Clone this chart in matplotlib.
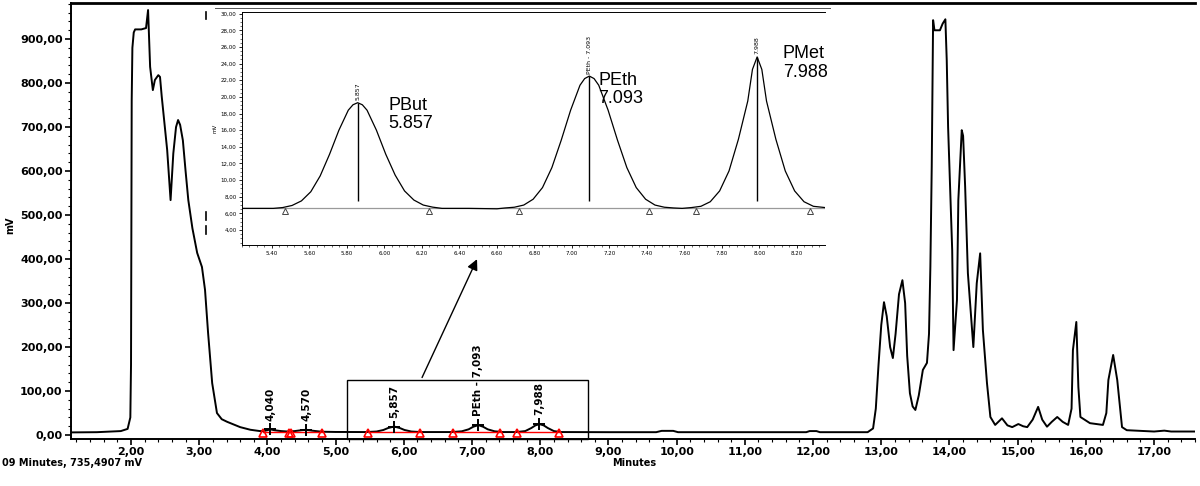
import matplotlib.pyplot as plt
from matplotlib.lines import Line2D
from matplotlib.patches import Rectangle
from matplotlib.ticker import MultipleLocator

plt.rcParams['font.family'] = ['DejaVu Sans']

# --- main chromatogram (min, mV) ---------------------------------------------
t_main = [1.12, 1.50, 1.70, 1.85, 1.95, 1.99, 2.00, 2.005, 2.01, 2.02, 2.04,
          2.06, 2.15, 2.22, 2.235, 2.25, 2.265, 2.28, 2.32, 2.35, 2.40, 2.425,
          2.45, 2.47, 2.53, 2.58, 2.62, 2.66, 2.69, 2.72, 2.76, 2.80, 2.84,
          2.90, 2.97, 3.04, 3.085, 3.13, 3.19, 3.26, 3.33, 3.41, 3.60, 3.75,
          3.89, 3.95, 4.00, 4.04, 4.10, 4.20, 4.30, 4.40, 4.50, 4.57, 4.65,
          4.80, 5.00, 5.45, 5.60, 5.70, 5.77, 5.857, 5.94, 6.01, 6.11, 6.25,
          6.70, 6.85, 6.95, 7.02, 7.093, 7.16, 7.23, 7.33, 7.45, 7.65, 7.78,
          7.87, 7.93, 7.988, 8.05, 8.11, 8.20, 8.30, 9.00, 9.70, 9.78, 9.95,
          10.02, 11.90, 11.95, 12.05, 12.10, 12.80, 12.88, 12.92, 12.96, 13.00,
          13.04, 13.08, 13.13, 13.17, 13.21, 13.26, 13.31, 13.35, 13.38, 13.42,
          13.46, 13.50, 13.55, 13.61, 13.67, 13.70, 13.72, 13.74, 13.76, 13.78,
          13.86, 13.90, 13.94, 13.96, 13.98, 14.01, 14.04, 14.06, 14.11, 14.13,
          14.18, 14.20, 14.23, 14.27, 14.35, 14.40, 14.45, 14.49, 14.55, 14.60,
          14.67, 14.77, 14.85, 14.92, 15.01, 15.08, 15.14, 15.22, 15.30, 15.36,
          15.43, 15.50, 15.58, 15.66, 15.74, 15.79, 15.81, 15.86, 15.89, 15.92,
          16.06, 16.25, 16.30, 16.33, 16.40, 16.46, 16.53, 16.60, 17.00, 17.15,
          17.25, 17.60]
mv_main = [6, 6.5, 8, 9, 14, 40, 160, 460, 760, 880, 915,
           922, 922, 925, 945, 966, 900, 837, 784, 807, 818, 814,
           770, 739, 648, 534, 640, 700, 716, 705, 670, 600, 534,
           470, 414, 382, 330, 232, 118, 50, 36, 30, 18, 12,
           9, 9, 11, 13, 11, 9, 8, 9, 11, 12, 10,
           7.5, 7, 6.8, 8, 11.5, 16, 19.3, 16, 11.5, 8, 6.8,
           6.8, 8.5, 13, 19, 22.5, 19, 13, 8.5, 6.8, 6.8, 9,
           16, 22, 24.8, 22, 16, 9, 6.8, 6.5, 6.5, 9.5, 9.5,
           6.5, 6.5, 9, 9, 6.5, 6.5, 15, 60, 160, 250,
           302, 270, 200, 175, 230, 320, 352, 300, 180, 95,
           65, 57, 90, 148, 164, 230, 382, 610, 943, 920,
           920, 935, 945, 852, 700, 557, 420, 193, 307, 534,
           693, 680, 564, 368, 200, 345, 413, 239, 118, 41,
           23, 38, 22, 18, 25, 20, 18, 35, 64, 35,
           19, 30, 41, 30, 23, 60, 193, 257, 109, 41,
           27, 23, 50, 125, 182, 125, 18, 11, 8, 10,
           8, 8]

y_ticks = [0, 100, 200, 300, 400, 500, 600, 700, 800, 900]
y_labels = ['0,00', '100,00', '200,00', '300,00', '400,00', '500,00',
            '600,00', '700,00', '800,00', '900,00']
x_ticks = [2, 3, 4, 5, 6, 7, 8, 9, 10, 11, 12, 13, 14, 15, 16, 17]
x_labels = ['2,00', '3,00', '4,00', '5,00', '6,00', '7,00', '8,00', '9,00',
            '10,00', '11,00', '12,00', '13,00', '14,00', '15,00', '16,00',
            '17,00']

# labelled small peaks on the main trace
peak_t = [4.040, 4.570, 5.857, 7.093, 7.988]
peak_mv = [13, 12, 19.3, 22.5, 24.8]
peak_txt = ['4,040', '4,570', '5,857', 'PEth - 7,093', '7,988']
# integration start / end of each peak
integ_start = [3.93, 4.34, 5.47, 6.72, 7.66]
integ_end = [4.31, 4.80, 6.24, 7.41, 8.27]

# --- zoomed inset (min, mV) --------------------------------------------------
t_in = [5.24, 5.30, 5.407, 5.457, 5.507, 5.557, 5.607, 5.657, 5.707, 5.757,
        5.807, 5.832, 5.857, 5.882, 5.907, 5.957, 6.007, 6.057, 6.107, 6.157,
        6.207, 6.257, 6.307, 6.45, 6.60, 6.643, 6.693, 6.743, 6.793, 6.843,
        6.893, 6.943, 6.993, 7.043, 7.068, 7.093, 7.118, 7.143, 7.193, 7.243,
        7.293, 7.343, 7.393, 7.443, 7.493, 7.543, 7.588, 7.638, 7.688, 7.738,
        7.788, 7.838, 7.888, 7.938, 7.963, 7.988, 8.013, 8.038, 8.088, 8.138,
        8.188, 8.238, 8.288, 8.35]
mv_in = [6.6, 6.6, 6.6, 6.7, 6.95, 7.5, 8.6, 10.5, 13.1, 16.0,
         18.4, 19.05, 19.3, 19.05, 18.4, 16.0, 13.1, 10.6, 8.7, 7.6,
         7.0, 6.75, 6.6, 6.6, 6.55, 6.65, 6.74, 7.0, 7.7, 9.1,
         11.5, 14.8, 18.4, 21.4, 22.2, 22.5, 22.2, 21.4, 18.4, 14.8,
         11.5, 9.1, 7.7, 7.0, 6.74, 6.65, 6.6, 6.7, 6.85, 7.4,
         8.7, 11.1, 14.9, 19.5, 23.3, 24.8, 23.3, 19.5, 14.9, 11.1,
         8.7, 7.4, 6.85, 6.7]
in_peak_t = [5.857, 7.093, 7.988]
in_peak_mv = [19.3, 22.5, 24.8]
in_peak_tag = ['5.857', 'PEth - 7.093', '7.988']
in_names = ['PBut\n5.857', 'PEth\n7.093', 'PMet\n7.988']
in_bounds = [5.47, 6.24, 6.72, 7.41, 7.66, 8.27]
in_y_ticks = [4, 6, 8, 10, 12, 14, 16, 18, 20, 22, 24, 26, 28, 30]
in_y_labels = ['4,00', '6,00', '8,00', '10,00', '12,00', '14,00', '16,00',
               '18,00', '20,00', '22,00', '24,00', '26,00', '28,00', '30,00']
in_x_ticks = [5.4, 5.6, 5.8, 6.0, 6.2, 6.4, 6.6, 6.8, 7.0, 7.2, 7.4, 7.6,
              7.8, 8.0, 8.2]
in_x_labels = ['5.40', '5.60', '5.80', '6.00', '6.20', '6.40', '6.60', '6.80',
               '7.00', '7.20', '7.40', '7.60', '7.80', '8.00', '8.20']

W, H = 1200, 486
fig = plt.figure(figsize=(W / 100, H / 100), dpi=100)
fig.patch.set_facecolor('white')


def fx(px):
    return px / W


def fy(py):
    return 1 - py / H


# --- main axes ---------------------------------------------------------------
ax = fig.add_axes([fx(71), fy(439), fx(1195) - fx(71), fy(3) - fy(439)])
ax.plot(t_main, mv_main, color='black', lw=1.4, solid_joinstyle='round')
ax.set_xlim(1.12, 17.60)
ax.set_ylim(-9, 982)

ax.set_yticks(y_ticks)
ax.set_yticklabels(y_labels, fontsize=8, fontweight='bold')
ax.set_xticks(x_ticks)
ax.set_xticklabels(x_labels, fontsize=8, fontweight='bold')
ax.xaxis.set_minor_locator(MultipleLocator(0.2))
ax.yaxis.set_minor_locator(MultipleLocator(20))
ax.tick_params(which='major', direction='out', length=4, width=1.2, pad=2)
ax.tick_params(which='minor', direction='out', length=2, width=0.8)
ax.spines['right'].set_visible(False)
ax.spines['top'].set_linewidth(2)
ax.spines['left'].set_linewidth(1.4)
ax.spines['bottom'].set_linewidth(1.4)

# integration marks of the small peaks
for s, e in zip(integ_start, integ_end):
    ax.plot([s, e], [6.5, 6.5], color='red', lw=1)
    ax.plot([s, e], [5, 5], ls='none', marker='^', ms=6, mfc='none',
            mec='red', mew=1.2)
for t, v, txt in zip(peak_t, peak_mv, peak_txt):
    ax.plot(t, v, marker='+', color='black', ms=8, mew=1.4)
    ax.text(t, v + 20, txt, rotation=90, ha='center', va='bottom',
            fontsize=7.5, fontweight='bold')

# box around the zoomed region
ax.add_patch(Rectangle((5.17, -9), 8.70 - 5.17, 125 + 9, fill=False,
                       edgecolor='black', lw=1, clip_on=False, zorder=3))

fig.text(fx(10), fy(225), 'mV', rotation=90, ha='center', va='center',
         fontsize=7, fontweight='bold')
fig.text(fx(634), fy(463), 'Minutes', ha='center', va='center',
         fontsize=7, fontweight='bold')
fig.text(fx(2), fy(463), '09 Minutes, 735,4907 mV', ha='left', va='center',
         fontsize=7, fontweight='bold')

# --- inset -------------------------------------------------------------------
axin = fig.add_axes([fx(242), fy(245), fx(825) - fx(242), fy(12) - fy(245)])
axin.axhline(6.6, color='#9a9a9a', lw=0.9)
axin.plot(t_in, mv_in, color='black', lw=0.9)
axin.plot(in_bounds, [6.25] * len(in_bounds), ls='none', marker='^', ms=4,
          mfc='none', mec='#444444', mew=0.7)
for t, v, tag in zip(in_peak_t, in_peak_mv, in_peak_tag):
    axin.vlines(t, 7.5, v, color='black', lw=1)
    axin.text(t, v + 0.3, tag, rotation=90, ha='center', va='bottom',
              fontsize=4.5)
name_pos = [(6.02, 20.0), (7.14, 23.0), (8.125, 26.2)]
for (x, y), name in zip(name_pos, in_names):
    axin.text(x, y, name, ha='left', va='top', fontsize=13,
              family='Liberation Sans', linespacing=1.1)

axin.set_xlim(5.24, 8.35)
axin.set_ylim(2.2, 30.2)
axin.set_yticks(in_y_ticks)
axin.set_yticklabels(in_y_labels, fontsize=4)
axin.set_xticks(in_x_ticks)
axin.set_xticklabels(in_x_labels, fontsize=4)
axin.xaxis.set_minor_locator(MultipleLocator(0.04))
axin.yaxis.set_minor_locator(MultipleLocator(0.5))
axin.tick_params(which='major', direction='out', length=2.5, width=0.6, pad=1.5)
axin.tick_params(which='minor', direction='out', length=1.2, width=0.4)
axin.set_ylabel('mV', fontsize=4, labelpad=2)
axin.spines['right'].set_visible(False)
for s in ['top', 'left', 'bottom']:
    axin.spines[s].set_linewidth(0.7)
fig.add_artist(Line2D([fx(215), fx(830)], [fy(8), fy(8)], color='#555555',
                      lw=0.7))

# stray dash marks left of the inset
for y0, y1 in [(12, 19), (212, 220), (226, 234)]:
    fig.add_artist(Line2D([fx(206), fx(206)], [fy(y0), fy(y1)],
                          color='black', lw=1.2))

# arrow from the box to the inset
ax.annotate('', xy=(6.50, 0.8), xycoords=axin.transData,
            xytext=(6.25, 125), textcoords=ax.transData,
            arrowprops=dict(arrowstyle='-|>', color='black', lw=1,
                            mutation_scale=16), zorder=5)

fig.savefig('out.png', dpi=100)
